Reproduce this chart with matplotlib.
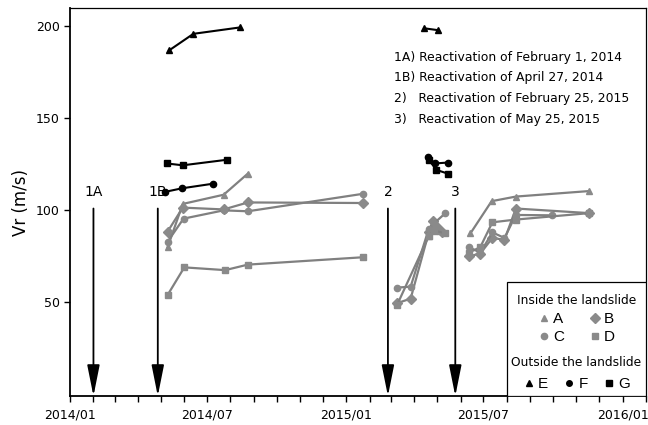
import numpy as np
import pandas as pd
import matplotlib
matplotlib.use("Agg")
import matplotlib.pyplot as plt
import matplotlib.dates as mdates
from matplotlib.lines import Line2D
from matplotlib.patches import Rectangle

nan = np.nan
BR = "2015-02-01"  # placeholder date where a series breaks

# inside the landslide (grey)
a_dates = ["2014-05-10", "2014-05-30", "2014-07-23", "2014-08-24", BR,
           "2015-04-20", "2015-04-27", "2015-05-05", "2015-06-01",
           "2015-06-14", "2015-07-12", "2015-08-13", "2015-11-18"]
a_vals = [80, 103.5, 108.5, 120, nan, 86, 92, 89, nan, 87.5, 105, 107.5, 110.5]

b_dates = ["2014-05-10", "2014-05-30", "2014-07-23", "2014-08-24", "2015-01-23", BR,
           "2015-03-09", "2015-03-27", "2015-04-20", "2015-04-25", "2015-05-01", "2015-05-08", "2015-06-01",
           "2015-06-12", "2015-06-27", "2015-07-13", "2015-07-29", "2015-08-13", "2015-11-18"]
b_vals = [88.5, 101.5, 100.5, 104.3, 104, nan, 49.5, 52, 88, 94, 91, 88, nan,
          75, 76.5, 85, 84, 101, 98.5]

c_dates = ["2014-05-10", "2014-05-31", "2014-07-23", "2014-08-24", "2015-01-23", BR,
           "2015-03-09", "2015-03-27", "2015-04-20", "2015-04-27", "2015-05-12", "2015-06-01",
           "2015-06-12", "2015-06-27", "2015-07-13", "2015-07-29", "2015-08-13", "2015-09-30"]
c_vals = [83, 95.5, 100, 99.5, 109, nan, 58, 58.5, 90, 93, 98.5, nan,
          80, 77, 88, 85, 97.5, 97.3]

d_dates = ["2014-05-10", "2014-06-01", "2014-07-25", "2014-08-24", "2015-01-23", BR,
           "2015-03-09", "2015-04-20", "2015-04-27", "2015-05-12", "2015-06-01",
           "2015-06-12", "2015-06-27", "2015-07-13", "2015-08-13", "2015-11-18"]
d_vals = [54, 69, 67.5, 70.5, 74.5, nan, 48.5, 86, 89, 87.5, nan, 77, 80, 93.5, 95, 98.5]

# outside the landslide (black)
e_dates = ["2014-05-12", "2014-06-13", "2014-08-14", BR, "2015-04-14", "2015-05-02"]
e_vals = [187, 196, 199.5, nan, 199, 198]

f_dates = ["2014-05-06", "2014-05-29", "2014-07-09", BR, "2015-04-19", "2015-04-28", "2015-05-15"]
f_vals = [110, 112, 114.5, nan, 129, 125.5, 126]

g_dates = ["2014-05-09", "2014-05-30", "2014-07-27", BR, "2015-04-20", "2015-04-30", "2015-05-15"]
g_vals = [125.5, 124.5, 127.5, nan, 127.5, 122, 120]

event_labels = ["1A", "1B", "2", "3"]
event_dates = ["2014-02-01", "2014-04-27", "2015-02-25", "2015-05-25"]
event_text = ["1A) Reactivation of February 1, 2014",
              "1B) Reactivation of April 27, 2014",
              "2)   Reactivation of February 25, 2015",
              "3)   Reactivation of May 25, 2015"]

GREY = "#8a8a8a"
GREY_LINE = "#808080"

fig = plt.figure(figsize=(6.48, 4.25), dpi=100)
ax = fig.add_axes([0.108, 0.068, 0.889, 0.913])

grey_series = [("A", a_dates, a_vals, "^", 5),
               ("B", b_dates, b_vals, "D", 5),
               ("C", c_dates, c_vals, "o", 4.5),
               ("D", d_dates, d_vals, "s", 5)]
black_series = [("E", e_dates, e_vals, "^", 5),
                ("F", f_dates, f_vals, "o", 4.5),
                ("G", g_dates, g_vals, "s", 5)]

handles = {}
for name, dates, vals, mk, ms in grey_series:
    ax.plot(pd.to_datetime(dates), vals, color=GREY_LINE, lw=1.6,
            marker=mk, ms=ms, mfc=GREY, mec=GREY, zorder=3)
    handles[name] = Line2D([], [], ls="none", marker=mk, ms=ms, color=GREY)
for name, dates, vals, mk, ms in black_series:
    ax.plot(pd.to_datetime(dates), vals, color="black", lw=1.5,
            marker=mk, ms=ms, zorder=4)
    handles[name] = Line2D([], [], ls="none", marker=mk, ms=ms - 0.5, color="black")

# reactivation arrows
for lab, d in zip(event_labels, event_dates):
    x = mdates.date2num(pd.Timestamp(d))
    ax.annotate("", xy=(x, -1), xytext=(x, 101),
                arrowprops=dict(arrowstyle="-|>,head_length=1.9,head_width=0.38",
                                color="black", lw=1.3, mutation_scale=10,
                                shrinkA=0, shrinkB=0))
    ax.text(x, 106, lab, ha="center", va="bottom", fontsize=10)

for i, t in enumerate(event_text):
    ax.text(0.563, 0.873 - i * 0.053, t, transform=ax.transAxes,
            fontsize=8.9, va="center", ha="left")

ax.set_xlim(pd.Timestamp("2014-01-01"), pd.Timestamp("2016-02-01"))
ax.set_ylim(-1, 210)
ax.set_yticks([50, 100, 150, 200])
ax.set_ylabel("Vr (m/s)", fontsize=12, labelpad=4)

ax.xaxis.set_major_locator(mdates.MonthLocator(bymonth=[1, 7]))
ax.xaxis.set_minor_locator(mdates.MonthLocator())
ax.xaxis.set_major_formatter(mdates.DateFormatter("%Y/%m"))
ax.tick_params(axis="both", which="major", labelsize=9, length=4, width=1)
ax.tick_params(axis="x", which="minor", length=4, width=1)
ax.tick_params(axis="x", pad=5)

for s in ["left", "bottom"]:
    ax.spines[s].set_linewidth(1.3)
for s in ["top", "right"]:
    ax.spines[s].set_linewidth(0.9)

# legend box
letter_font = {"family": "Liberation Sans", "size": 11}
ax.add_patch(Rectangle((0.759, 0.0), 0.241, 0.294, transform=ax.transAxes,
                       fill=True, fc="white", ec="black", lw=0.9, zorder=5))
leg1 = ax.legend([handles["A"], handles["C"], handles["B"], handles["D"]],
                 ["A", "C", "B", "D"], ncol=2, title="Inside the landslide",
                 loc="upper center", bbox_to_anchor=(0.879, 0.29),
                 frameon=False, prop=letter_font, title_fontsize=8.8,
                 handlelength=0.8, handletextpad=0.2, columnspacing=1.6,
                 labelspacing=0.3, borderpad=0.2)
leg1.set_zorder(6)
ax.add_artist(leg1)
leg2 = ax.legend([handles["E"], handles["F"], handles["G"]],
                 ["E", "F", "G"], ncol=3, title="Outside the landslide",
                 loc="upper center", bbox_to_anchor=(0.879, 0.13),
                 frameon=False, prop=letter_font, title_fontsize=8.8,
                 handlelength=0.8, handletextpad=0.2, columnspacing=1.0,
                 borderpad=0.2)
leg2.set_zorder(6)

fig.savefig("out.png", dpi=100)
